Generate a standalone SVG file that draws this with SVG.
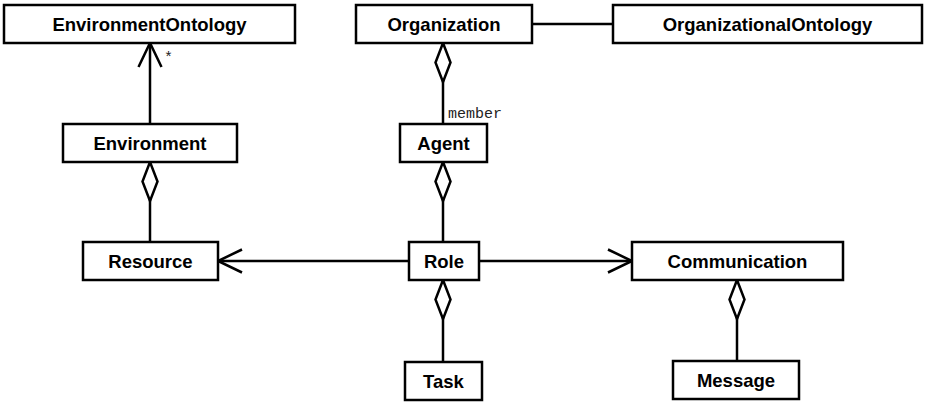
<svg xmlns="http://www.w3.org/2000/svg" width="925" height="403" viewBox="0 0 925 403">
<style>
.box{fill:#fff;stroke:#000;stroke-width:2.5}
.lbl{font-family:"Liberation Sans",Arial,sans-serif;font-weight:bold;font-size:18.5px;text-anchor:middle;fill:#000}
.ln{fill:none;stroke:#000;stroke-width:2.5}
.small{font-family:"Liberation Mono","Courier New",monospace;font-size:15px;fill:#222}
</style>
<defs>
<marker id="diamond" viewBox="-2 -10 44 20" refX="0" refY="0" markerWidth="44" markerHeight="20" orient="auto" markerUnits="userSpaceOnUse" overflow="visible">
<path d="M0,0 L19.5,-7.5 L39,0 L19.5,7.5 Z" fill="#fff" stroke="#000" stroke-width="2.5"/>
</marker>
<marker id="arrow" viewBox="-26 -13 28 26" refX="0" refY="0" markerWidth="28" markerHeight="26" orient="auto" markerUnits="userSpaceOnUse" overflow="visible">
<path d="M-24,-11.5 L0,0 L-24,11.5" fill="none" stroke="#000" stroke-width="2.5"/>
</marker>
</defs>
<rect width="925" height="403" fill="#fff"/>
<g id="connectors">
<path class="ln" d="M150,124 L150,43" marker-end="url(#arrow)"/>
<text class="small" x="164" y="62" font-size="12">*</text>
<path class="ln" d="M532,24 L613,24"/>
<path class="ln" d="M443,43 L443,124" marker-start="url(#diamond)"/>
<text class="small" x="448" y="118">member</text>
<path class="ln" d="M443,162 L443,242" marker-start="url(#diamond)"/>
<path class="ln" d="M150,162 L150,242" marker-start="url(#diamond)"/>
<path class="ln" d="M409,261 L218,261" marker-end="url(#arrow)"/>
<path class="ln" d="M479,261 L632,261" marker-end="url(#arrow)"/>
<path class="ln" d="M443,280 L443,362" marker-start="url(#diamond)"/>
<path class="ln" d="M737,280 L737,361" marker-start="url(#diamond)"/>
</g>
<g id="EnvironmentOntology"><rect class="box" x="4" y="5" width="291" height="38"/><text class="lbl" x="149.5" y="30.5">EnvironmentOntology</text></g>
<g id="Organization"><rect class="box" x="356" y="5" width="176" height="38"/><text class="lbl" x="444" y="30.5">Organization</text></g>
<g id="OrganizationalOntology"><rect class="box" x="613" y="5" width="309" height="38"/><text class="lbl" x="767.5" y="30.5">OrganizationalOntology</text></g>
<g id="Environment"><rect class="box" x="63" y="124" width="174" height="38"/><text class="lbl" x="150" y="149.5">Environment</text></g>
<g id="Agent"><rect class="box" x="400" y="124" width="87" height="38"/><text class="lbl" x="443.5" y="149.5">Agent</text></g>
<g id="Resource"><rect class="box" x="83" y="242" width="135" height="38"/><text class="lbl" x="150.5" y="267.5">Resource</text></g>
<g id="Role"><rect class="box" x="409" y="242" width="70" height="38"/><text class="lbl" x="444" y="267.5">Role</text></g>
<g id="Communication"><rect class="box" x="632" y="242" width="211" height="38"/><text class="lbl" x="737.5" y="267.5">Communication</text></g>
<g id="Task"><rect class="box" x="405" y="362" width="77" height="38"/><text class="lbl" x="443.5" y="387.5">Task</text></g>
<g id="Message"><rect class="box" x="673" y="361" width="126" height="38"/><text class="lbl" x="736" y="386.5">Message</text></g>
</svg>
